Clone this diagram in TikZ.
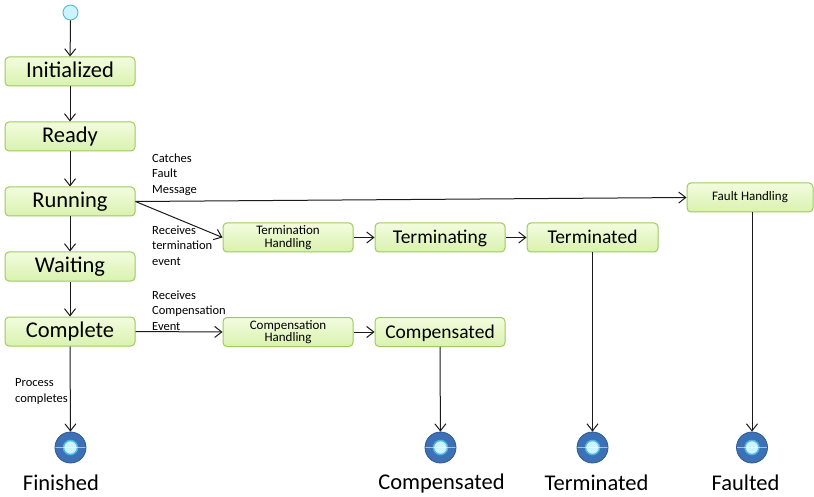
\documentclass[tikz,border=0pt]{standalone}
\usepackage{fontspec}
\setmainfont{Carlito}
\usetikzlibrary{arrows.meta}
\definecolor{boxborder}{HTML}{9CCB5E}
\definecolor{boxtop}{HTML}{F3FCDF}
\definecolor{boxbot}{HTML}{D9F2AE}
\definecolor{ringblue}{HTML}{3E70B5}
\definecolor{ringdark}{HTML}{2C5A96}
\definecolor{innercyan}{HTML}{CDF3FF}
\definecolor{innerborder}{HTML}{4DB9E2}
\definecolor{linecol}{HTML}{1A1A1A}
\tikzset{
  state/.style={draw=boxborder, line width=1pt, rounded corners=4pt,
    top color=boxtop, bottom color=boxbot, minimum width=130pt,
    minimum height=29pt, inner sep=0pt},
  bigtxt/.style={font=\fontsize{22.5}{24}\selectfont, text height=14.5pt, text depth=1.6pt},
  midtxt/.style={font=\fontsize{19.5}{21}\selectfont, text height=12.6pt, text depth=0.4pt},
  smalltxt/.style={font=\fontsize{13}{14.5}\selectfont, align=center},
  lbl/.style={font=\fontsize{12.5}{15.5}\selectfont, align=left, inner sep=0pt, anchor=west},
  endlbl/.style={font=\fontsize{22.5}{24}\selectfont, inner sep=0pt},
  conn/.style={draw=linecol, line width=1pt, -{Straight Barb[length=7pt,width=11pt,line width=1pt]}},
  initial/.style={circle, draw=innerborder, fill=innercyan, line width=0.9pt,
    minimum size=15pt, inner sep=0pt},
  finalstate/.style={circle, draw=ringdark, fill=ringblue, line width=0.8pt,
    minimum size=31pt, inner sep=0pt,
    path picture={
      \fill[innercyan, draw=innerborder, line width=1.5pt]
        (path picture bounding box.center) circle (7pt);
      \draw[white, opacity=0.55, line width=0.5pt]
        (path picture bounding box.west) -- (path picture bounding box.east);
    }}
}
\begin{document}
\begin{tikzpicture}[x=1pt, y=-1pt]
\useasboundingbox (0,0) rectangle (814,497);

% initial
\node[initial] (init) at (70.5,12.5) {};

% main column
\node[state, bigtxt] (initialized) at (70,71.5) {Initialized};
\node[state, bigtxt] (ready) at (70,136.5) {Ready};
\node[state, bigtxt] (running) at (70,201.5) {Running};
\node[state, bigtxt] (waiting) at (70,266.5) {Waiting};
\node[state, bigtxt] (complete) at (70,331.5) {Complete};

% termination row
\node[state, smalltxt] (termh) at (288,237.5) {Termination\\[-2pt]Handling};
\node[state, midtxt] (terminating) at (440,237.5) {Terminating};
\node[state, midtxt, minimum width=131pt] (terminated) at (592.5,237.5) {Terminated};

% fault
\node[state, smalltxt, minimum width=126pt] (fault) at (750,197.5) {Fault Handling};

% compensation row
\node[state, smalltxt] (comph) at (288,332) {Compensation\\[-2pt]Handling};
\node[state, midtxt] (compensated) at (440,332) {Compensated};

% final states
\node[finalstate] (fin1) at (70.5,447.5) {};
\node[finalstate] (fin2) at (440.5,447.5) {};
\node[finalstate] (fin3) at (592.5,447.5) {};
\node[finalstate] (fin4) at (752,447.5) {};

% final labels
\node[endlbl] (lfin1) at (61,483) {Finished};
\node[endlbl] (lfin2) at (441.5,483) {Compensated};
\node[endlbl] (lfin3) at (596.5,483) {Terminated};
\node[endlbl] (lfin4) at (745.5,483) {Faulted};

% side labels
\node[lbl] (lcatch) at (152,174.5) {Catches\\Fault\\Message};
\node[lbl] (lterm) at (152,245.5) {Receives\\termination\\event};
\node[lbl] (lcomp) at (152,310.5) {Receives\\Compensation\\Event};
\node[lbl] (lproc) at (15,391.5) {Process\\completes};

% connectors
\draw[conn] (init) -- (initialized);
\draw[conn] (initialized) -- (ready);
\draw[conn] (ready) -- (running);
\draw[conn] (running) -- (waiting);
\draw[conn] (waiting) -- (complete);
\draw[conn] (complete) -- (fin1);

\draw[conn] (running.east) -- (fault.west);
\draw[conn] (running.east) -- (termh.west);
\draw[conn] (termh) -- (terminating);
\draw[conn] (terminating) -- (terminated);
\draw[conn] (complete.east) -- (comph.west);
\draw[conn] (comph) -- (compensated);

\draw[conn] (compensated.south) -- (fin2);
\draw[conn] (terminated.south) -- (fin3);
\draw[conn] (fault.south -| fin4) -- (fin4);
\end{tikzpicture}
\end{document}
